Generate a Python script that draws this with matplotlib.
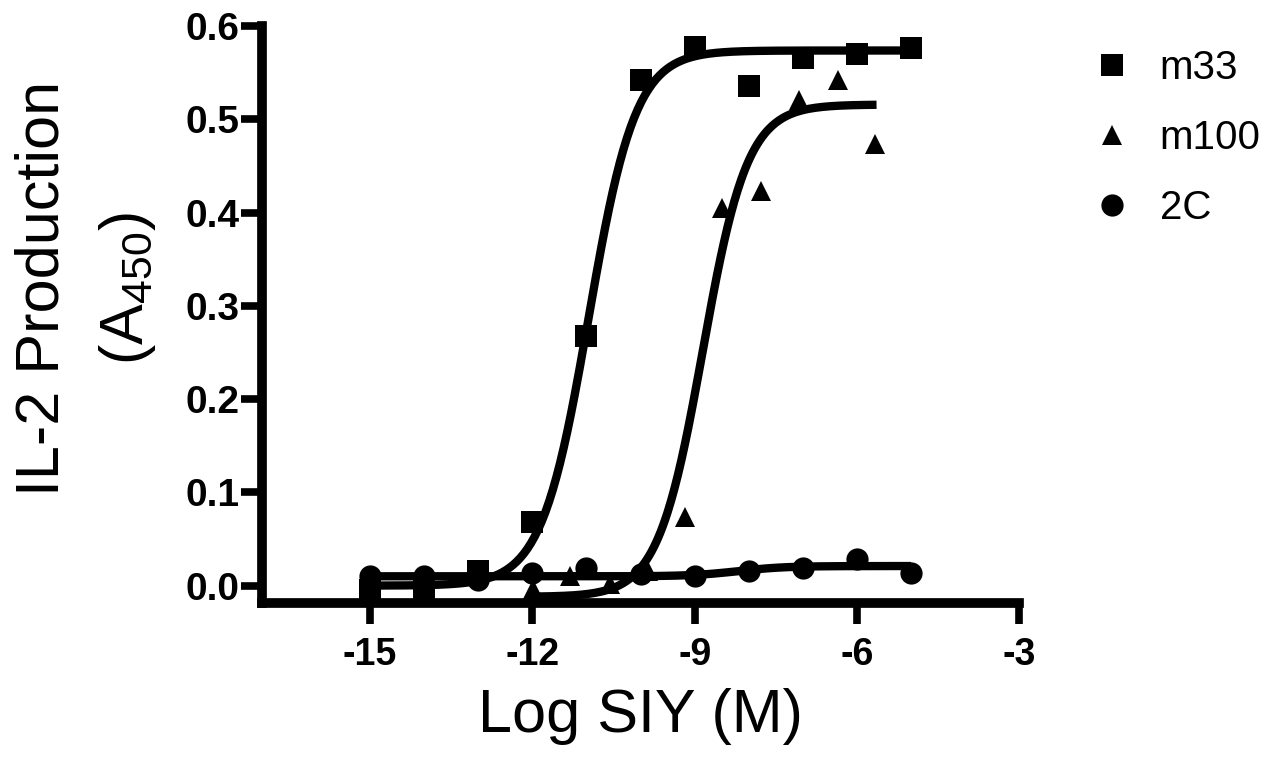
import numpy as np
import matplotlib
matplotlib.use("Agg")
import matplotlib.pyplot as plt
from matplotlib.lines import Line2D

plt.rcParams['font.family'] = ['Liberation Sans', 'DejaVu Sans']
plt.rcParams['mathtext.default'] = 'regular'
plt.rcParams['axes.unicode_minus'] = False

# measured points (log M, A450)
m33_x = [-15, -14, -13, -12, -11, -10, -9, -8, -7, -6, -5]
m33_y = [-0.005, -0.006, 0.016, 0.068, 0.268, 0.542, 0.578, 0.536, 0.566, 0.570, 0.577]

m100_x = [-11.98, -11.30, -10.56, -9.86, -9.18, -8.50, -7.78, -7.08, -6.36, -5.67]
m100_y = [-0.004, 0.010, 0.002, 0.016, 0.074, 0.405, 0.423, 0.521, 0.542, 0.474]

c2_x = [-15, -14, -13, -12, -11, -10, -9, -8, -7, -6, -5]
c2_y = [0.010, 0.010, 0.006, 0.014, 0.019, 0.012, 0.010, 0.016, 0.019, 0.029, 0.014]

# sigmoidal dose-response fits: bottom, top, logEC50, hill slope, x range
m33_fit = (0.0, 0.574, -10.96, 1.0, -15, -5)
m100_fit = (-0.012, 0.516, -8.85, 1.05, -11.98, -5.64)
c2_fit = (0.010, 0.021, -8.2, 1.0, -15, -5)

labels = ['m33', 'm100', '2C']
markers = ['s', '^', 'o']
msizes = [15.5, 15, 16]


def dose_response(fit, n=300):
    bottom, top, logec50, hill, x0, x1 = fit
    xs = np.linspace(x0, x1, n)
    ys = bottom + (top - bottom) / (1 + 10 ** ((logec50 - xs) * hill))
    return xs, ys


fig = plt.figure(figsize=(12.77, 7.59), dpi=100)
ax = fig.add_axes([0.2049, 0.2051, 0.5934, 0.7603])

series = [(m33_x, m33_y, m33_fit), (m100_x, m100_y, m100_fit), (c2_x, c2_y, c2_fit)]
for (xs, ys, fit), mk, ms in zip(series, markers, msizes):
    cx, cy = dose_response(fit)
    ax.plot(cx, cy, color='black', lw=6, solid_capstyle='butt', zorder=2)
    ax.plot(xs, ys, linestyle='none', marker=mk, ms=ms, color='black',
            markeredgewidth=0, zorder=3, clip_on=False)

ax.set_xlim(-17, -3)
ax.set_ylim(-0.019, 0.6)
ax.set_xticks([-15, -12, -9, -6, -3])
ax.set_xticklabels(['-15', '-12', '-9', '-6', '-3'])
ax.set_yticks([0.0, 0.1, 0.2, 0.3, 0.4, 0.5, 0.6])
ax.set_yticklabels(['0.0', '0.1', '0.2', '0.3', '0.4', '0.5', '0.6'])

for side in ['top', 'right']:
    ax.spines[side].set_visible(False)
for side in ['left', 'bottom']:
    ax.spines[side].set_linewidth(7)

ax.tick_params(axis='both', direction='out', length=15, width=5.5, color='black')
ax.tick_params(axis='x', pad=9)
ax.tick_params(axis='y', pad=1)
for lab in ax.get_xticklabels():
    lab.set_fontsize(27)
    lab.set_fontweight('bold')
for lab in ax.get_yticklabels():
    lab.set_fontsize(28)
    lab.set_fontweight('bold')

ax.set_xlabel('Log SIY (M)', fontsize=44, labelpad=11)
ax.set_ylabel('IL-2 Production\n(A$_{450}$)', fontsize=44, linespacing=1.55,
              va='center', ha='center', multialignment='center')
ax.yaxis.set_label_coords(-0.232, 0.545)

handles = [Line2D([], [], linestyle='none', marker=mk, ms=ms, color='black',
                  markeredgewidth=0) for mk, ms in zip(markers, msizes)]
fig.legend(handles, labels, loc='upper left', bbox_to_anchor=(1092 / 1277, 0.935),
           frameon=False, fontsize=29, handlelength=1.0, handletextpad=0.68,
           labelspacing=0.79, borderpad=0, borderaxespad=0)

fig.savefig('out.png', dpi=100)
